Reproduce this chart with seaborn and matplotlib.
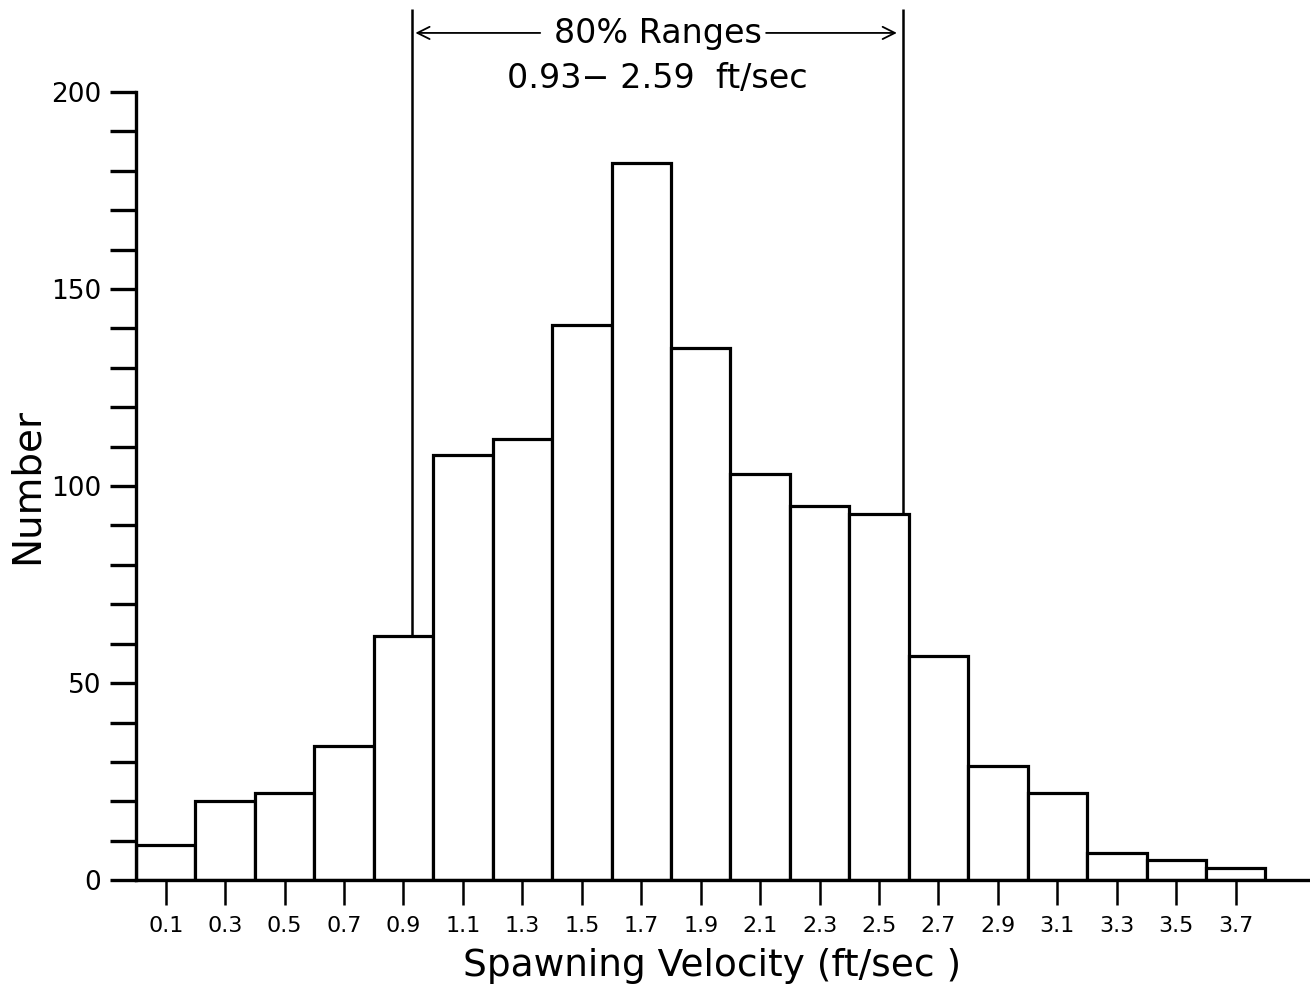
import numpy as np
import pandas as pd
import seaborn as sns
import matplotlib.pyplot as plt
from matplotlib.ticker import MultipleLocator

# bin centres (ft/sec) and counts
velocity = [0.1, 0.3, 0.5, 0.7, 0.9, 1.1, 1.3, 1.5, 1.7, 1.9,
            2.1, 2.3, 2.5, 2.7, 2.9, 3.1, 3.3, 3.5, 3.7]
number = [9, 20, 22, 34, 62, 108, 112, 141, 182, 135,
          103, 95, 93, 57, 29, 22, 7, 5, 3]
bin_edges = [round(0.2 * i, 1) for i in range(20)]

# 80% range limits
range_low = 0.93
range_high = 2.58

sns.set_style("ticks", {'axes.edgecolor': 'black', 'text.color': 'black',
                        'xtick.color': 'black', 'ytick.color': 'black',
                        'axes.labelcolor': 'black'})
plt.rcParams['font.family'] = ['DejaVu Sans']

df = pd.DataFrame({'velocity': velocity, 'number': number})

fig = plt.figure(figsize=(13.1, 10.07), dpi=100)
ax = fig.add_axes([0.1038, 0.126, 0.8962, 0.7826])

sns.histplot(data=df, x='velocity', weights='number', bins=bin_edges,
             color='white', edgecolor='black', linewidth=2.3, alpha=1,
             ax=ax)

ax.set_xlim(0, 3.95)
ax.set_ylim(0, 200)

# vertical lines marking the 80% range, running up above the plot
for xv in (range_low, range_high):
    top_bar = number[int(xv // 0.2)]
    ax.plot([xv, xv], [top_bar, 221], color='black', lw=1.8,
            clip_on=False, solid_capstyle='butt')

# range annotation
mid = (range_low + range_high) / 2
ax.text(mid, 214.8, '80% Ranges', ha='center', va='center', fontsize=24)
ax.text(mid, 203.5, '0.93\u2212 2.59  ft/sec', ha='center', va='center',
        fontsize=24)
arrow = dict(arrowstyle='->', color='black', lw=1.3,
             mutation_scale=22, shrinkA=0, shrinkB=0)
ax.annotate('', xy=(range_low + 0.01, 215), xytext=(1.36, 215),
            arrowprops=arrow, annotation_clip=False)
ax.annotate('', xy=(range_high - 0.02, 215), xytext=(2.12, 215),
            arrowprops=arrow, annotation_clip=False)

ax.set_xticks(velocity)
ax.set_xticklabels([f'{v:.1f}' for v in velocity])
ax.yaxis.set_major_locator(MultipleLocator(50))
ax.yaxis.set_minor_locator(MultipleLocator(10))

ax.tick_params(axis='x', direction='out', length=18, width=1.8,
               labelsize=16, pad=8)
ax.tick_params(axis='y', which='both', direction='out', length=19,
               width=2.4, labelsize=19, pad=6)

for s in ('top', 'right'):
    ax.spines[s].set_visible(False)
for s in ('left', 'bottom'):
    ax.spines[s].set_linewidth(2.4)

ax.set_xlabel('Spawning Velocity (ft/sec )', fontsize=27)
ax.set_ylabel('Number', fontsize=28)
ax.xaxis.set_label_coords(0.491, -0.109)
ax.yaxis.set_label_coords(-0.093, 0.5)
ax.xaxis.label.set_va('center')
ax.yaxis.label.set_va('center')

fig.savefig('out.png', dpi=100, facecolor='white')
